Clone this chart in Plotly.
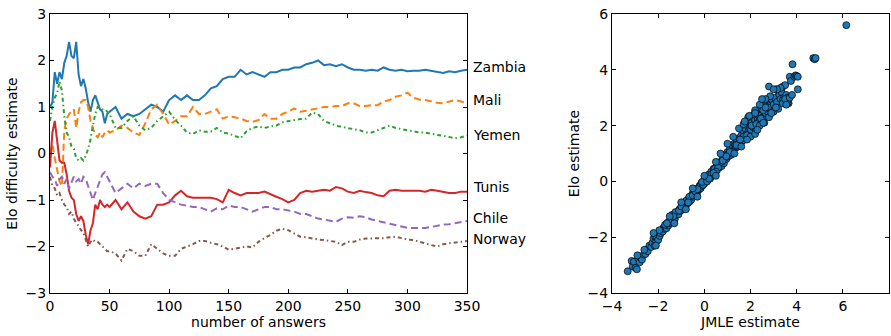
import plotly.graph_objects as go

# ---------------- data ----------------
answers = [0, 2, 4, 6, 8, 10, 12, 14, 16, 18, 20, 22, 24, 26, 28, 30, 32, 34, 36, 38, 40, 42, 44, 46, 48, 50,
           55, 60, 65, 70, 75, 80, 85, 90, 95, 100,
           105, 110, 115, 120, 125, 130, 135, 140, 145, 150,
           155, 160, 165, 170, 175, 180, 185, 190, 195, 200,
           205, 210, 215, 220, 225, 230, 235, 240, 245, 250,
           255, 260, 265, 270, 275, 280, 285, 290, 295, 300,
           305, 310, 315, 320, 325, 330, 335, 340, 345, 350]

zambia = [1.0, 1.1, 1.75, 1.5, 1.75, 1.6, 1.95, 2.1, 2.4, 2.1, 2.05, 2.4, 1.7, 1.45, 1.6, 1.4, 1.1, 0.9, 1.15, 1.25, 1.1, 0.95, 0.9, 0.65, 0.85, 0.9,
          1.0, 0.75, 0.85, 0.8, 0.85, 0.95, 1.05, 1.0, 0.9, 1.15,
          1.25, 1.15, 1.25, 1.15, 1.15, 1.25, 1.4, 1.45, 1.6, 1.65,
          1.65, 1.8, 1.7, 1.75, 1.7, 1.65, 1.75, 1.75, 1.8, 1.8,
          1.85, 1.85, 1.92, 1.95, 2.0, 1.9, 1.92, 1.88, 1.92, 1.85,
          1.8, 1.8, 1.78, 1.8, 1.78, 1.85, 1.8, 1.78, 1.8, 1.77,
          1.78, 1.78, 1.8, 1.78, 1.75, 1.73, 1.77, 1.75, 1.78, 1.8]

mali = [0.0, 0.2, -0.1, -0.35, -0.6, -0.7, 0.5, 0.75, 0.85, 0.9, 0.95, 0.55, 0.9, 1.1, 1.15, 1.15, 1.0, 0.7, 0.55, 0.4, 0.35, 0.45, 0.35, 0.45, 0.5, 0.45,
        0.5, 0.6, 0.55, 0.45, 0.4, 0.65, 0.95, 1.05, 0.85, 0.62,
        0.7, 0.8, 0.8, 1.0, 0.85, 0.85, 0.9, 0.95, 0.75, 0.8,
        0.78, 0.75, 0.7, 0.68, 0.72, 0.85, 0.75, 0.75, 0.85, 0.9,
        0.97, 0.9, 0.92, 0.95, 0.97, 1.0, 1.0, 1.02, 1.02, 1.08,
        1.08, 1.02, 1.02, 1.04, 1.04, 1.12, 1.15, 1.22, 1.25, 1.31,
        1.2, 1.16, 1.15, 1.12, 1.09, 1.08, 1.12, 1.15, 1.12, 1.08]

yemen = [0.7, 1.0, 1.2, 1.3, 1.55, 1.35, 0.8, 0.45, 0.35, 0.15, 0.1, -0.1, -0.15, -0.1, -0.15, -0.05, 0.1, 0.3, 0.6, 0.85, 1.0, 1.0, 0.95, 0.95, 0.9, 0.85,
         0.55, 0.55, 0.7, 0.8, 0.6, 0.5, 0.55, 0.7, 0.8, 0.9,
         0.72, 0.6, 0.45, 0.42, 0.5, 0.47, 0.47, 0.55, 0.45, 0.43,
         0.38, 0.33, 0.48, 0.55, 0.58, 0.55, 0.58, 0.6, 0.67, 0.7,
         0.72, 0.74, 0.75, 0.88, 0.85, 0.7, 0.65, 0.6, 0.57, 0.55,
         0.52, 0.5, 0.45, 0.45, 0.5, 0.55, 0.6, 0.55, 0.52, 0.5,
         0.48, 0.45, 0.45, 0.42, 0.4, 0.38, 0.35, 0.33, 0.35, 0.38]

tunis = [-0.3, 0.45, 0.7, 0.3, -0.15, -0.2, -0.2, -0.45, -0.8, -0.95, -1.0, -1.3, -1.45, -1.35, -1.45, -1.75, -1.95, -1.65, -1.5, -1.1, -1.2, -1.0, -1.1, -1.15, -1.1, -1.15,
         -1.0, -1.2, -1.05, -1.25, -1.35, -1.4, -1.35, -1.1, -1.1, -1.05,
         -0.9, -0.8, -0.92, -0.95, -0.95, -0.95, -0.95, -0.98, -1.05, -0.78,
         -0.85, -0.9, -0.85, -0.85, -0.85, -0.82, -0.88, -0.93, -0.98, -1.05,
         -1.0, -0.85, -0.8, -0.82, -0.8, -0.78, -0.8, -0.72, -0.75, -0.82,
         -0.85, -0.8, -0.83, -0.85, -0.9, -0.92, -0.8, -0.78, -0.8, -0.8,
         -0.8, -0.8, -0.82, -0.78, -0.8, -0.82, -0.85, -0.85, -0.82, -0.82]

chile = [-0.4, -0.5, -0.55, -0.7, -0.55, -0.5, -0.65, -0.55, -0.75, -0.6, -0.5, -0.6, -0.55, -0.65, -0.5, -0.55, -0.7, -0.85, -1.0, -0.85, -0.7, -0.6, -0.45, -0.4, -0.5, -0.6,
         -0.85, -0.75, -0.65, -0.75, -0.65, -0.7, -0.65, -0.65, -0.85, -1.0,
         -1.05, -1.1, -1.12, -1.15, -1.15, -1.2, -1.25, -1.18, -1.2, -1.12,
         -1.15, -1.15, -1.2, -1.25, -1.2, -1.15, -1.15, -1.2, -1.2, -1.22,
         -1.25, -1.3, -1.3, -1.35, -1.4, -1.42, -1.45, -1.47, -1.4, -1.37,
         -1.38, -1.35, -1.37, -1.42, -1.45, -1.48, -1.52, -1.55, -1.58, -1.6,
         -1.6, -1.6, -1.6, -1.58, -1.55, -1.53, -1.52, -1.5, -1.48, -1.45]

norway = [-0.5, -0.7, -0.75, -0.9, -0.85, -1.0, -1.1, -1.15, -1.3, -1.25, -1.4, -1.5, -1.55, -1.65, -1.7, -1.85, -2.0, -1.9, -1.85, -1.9, -1.9, -1.95, -2.0, -2.05, -2.1, -2.1,
          -2.15, -2.3, -2.05, -2.1, -2.2, -2.2, -1.95, -2.05, -2.15, -2.2,
          -2.2, -2.05, -2.0, -1.95, -1.88, -1.88, -1.92, -1.95, -2.0, -2.07,
          -2.05, -2.02, -2.0, -2.02, -1.9, -1.82, -1.75, -1.66, -1.62, -1.65,
          -1.72, -1.79, -1.8, -1.83, -1.85, -1.86, -1.88, -1.9, -1.97, -1.9,
          -1.9, -1.85, -1.83, -1.83, -1.83, -1.82, -1.8, -1.79, -1.82, -1.85,
          -1.86, -1.9, -1.93, -1.97, -2.0, -1.95, -1.93, -1.92, -1.9, -1.88]

countries = ["Zambia", "Mali", "Yemen", "Tunis", "Chile", "Norway"]
label_y = [1.86, 1.14, 0.40, -0.73, -1.39, -1.84]

jmle = [-3.32, -3.15, -3.1, -3.05, -2.98, -2.92, -2.85, -2.8, -2.75, -2.7, -2.62, -2.55, -2.5, -2.45, -2.38, -2.3, -2.25, -2.2, -2.15, -2.12, -2.08, -2.05, -2.0, -1.97, -1.93,
        -1.9, -1.85, -1.8, -1.76, -1.72, -1.68, -1.64, -1.6, -1.56, -1.52, -1.48, -1.44, -1.4, -1.36, -1.32, -1.28, -1.24, -1.2, -1.16, -1.12, -1.08, -1.04, -1.0, -0.96, -0.92,
        -0.88, -0.84, -0.8, -0.76, -0.72, -0.68, -0.64, -0.6, -0.56, -0.52, -0.48, -0.44, -0.4, -0.36, -0.32, -0.28, -0.24, -0.2, -0.16, -0.12, -0.08, -0.04, 0.0, 0.04, 0.08,
        -1.7, -1.55, -1.4, -1.25, -1.1, -0.95, -0.8, -0.65, -0.5, -0.35, -0.2, -0.05, -1.35, -1.0, -0.7, -0.4, -0.1, -1.95, -1.62, -0.3,
        0.1, 0.15, 0.2, 0.25, 0.3, 0.35, 0.4, 0.45, 0.5, 0.55, 0.6, 0.65, 0.7, 0.75, 0.8, 0.85, 0.9, 0.95, 1.0, 1.05, 1.1, 1.15, 1.2, 1.25, 1.3, 1.35, 1.4, 1.45, 1.5,
        1.55, 1.6, 1.65, 1.7, 1.75, 1.8, 1.85, 1.9, 1.95, 2.0,
        0.12, 0.3, 0.45, 0.6, 0.75, 0.9, 1.05, 1.2, 1.35, 1.5, 1.65, 1.8, 1.95, 0.2, 0.5, 0.8, 1.1, 1.4, 1.7, 0.4, 0.95, 1.55, 1.85,
        2.02, 2.05, 2.1, 2.12, 2.15, 2.2, 2.22, 2.25, 2.3, 2.32, 2.35, 2.4, 2.42, 2.45, 2.5, 2.52, 2.55, 2.6, 2.62, 2.65, 2.7, 2.72, 2.75, 2.8, 2.82, 2.85, 2.9, 2.95, 3.0,
        2.15, 2.35, 2.55, 2.75, 2.05, 2.45, 2.65, 2.25,
        3.05, 3.1, 3.15, 3.2, 3.25, 3.3, 3.35, 3.4, 3.45, 3.5, 3.55, 3.6, 3.65, 3.7, 3.75, 3.82, 3.9, 3.95, 4.0, 4.05, 4.05, 2.8, 3.4,
        4.72, 4.78, 4.82, 6.15,
        1.5, 1.7, 1.9, 2.0, 2.2, 2.4, 2.6, 2.8, 3.0, 3.2, 3.4, 3.6, 3.3, 3.15, 2.85, 2.65, 2.4, 2.2, 1.95, 1.75,
        1.25, 1.0, 0.7, 0.5, 1.3, 1.6, 1.85, 2.3, 2.55, 2.9, 3.1, 3.5, 3.55, 3.7, 3.8, 3.0, 2.5, 2.2,
        -2.2, -2.1, -2.9, -2.6, -1.5, -1.0, -0.5, 0.0, 0.5, -0.3, -0.8, -1.3]

elo = [-3.22, -2.85, -3.05, -2.88, -3.1, -3.15, -2.78, -2.9, -2.72, -2.8, -2.62, -2.6, -2.45, -2.5, -2.3, -2.35, -2.2, -2.05, -2.3, -2.0, -2.15, -2.0, -2.1, -1.85, -1.95,
       -1.85, -1.75, -1.8, -1.65, -1.7, -1.6, -1.68, -1.5, -1.58, -1.45, -1.5, -1.35, -1.42, -1.3, -1.25, -1.35, -1.15, -1.2, -1.1, -1.18, -1.0, -1.05, -0.95, -1.02, -0.85,
       -0.9, -0.8, -0.88, -0.7, -0.78, -0.62, -0.72, -0.55, -0.65, -0.45, -0.55, -0.4, -0.48, -0.3, -0.42, -0.25, -0.3, -0.15, -0.25, -0.05, -0.15, 0.0, -0.08, 0.1, 0.0,
       -1.55, -1.45, -1.2, -1.1, -1.05, -0.85, -0.7, -0.55, -0.5, -0.38, -0.2, -0.12, -1.25, -0.9, -0.75, -0.35, -0.02, -1.75, -1.5, -0.28,
       0.15, 0.05, 0.25, 0.1, 0.35, 0.2, 0.45, 0.3, 0.5, 0.4, 0.65, 0.5, 0.7, 0.55, 0.85, 0.65, 0.95, 0.8, 1.05, 0.9, 1.15, 0.95, 1.3, 1.1, 1.35, 1.2, 1.45, 1.25, 1.55,
       1.4, 1.65, 1.45, 1.8, 1.55, 1.85, 1.7, 1.95, 1.75, 2.05,
       0.0, 0.25, 0.45, 0.5, 0.7, 0.85, 1.0, 1.05, 1.3, 1.35, 1.55, 1.6, 1.85, 0.1, 0.35, 0.75, 1.05, 1.3, 1.6, 0.3, 0.9, 1.5, 1.65,
       1.85, 2.15, 1.95, 2.3, 2.05, 2.2, 1.9, 2.4, 2.1, 2.25, 2.5, 2.2, 2.35, 2.6, 2.4, 2.7, 2.3, 2.55, 2.75, 2.45, 2.6, 2.85, 2.5, 2.7, 2.95, 2.6, 2.8, 2.9, 2.75,
       2.4, 2.0, 2.55, 2.65, 2.0, 2.25, 2.65, 2.05,
       3.0, 3.3, 2.85, 3.25, 3.1, 2.95, 3.2, 3.4, 3.0, 3.45, 3.1, 3.0, 2.8, 3.75, 3.6, 4.2, 3.75, 3.8, 3.78, 3.3, 3.75, 3.4, 2.9,
       4.42, 4.38, 4.42, 5.6,
       1.9, 2.05, 2.3, 1.6, 1.7, 2.0, 2.1, 2.3, 2.5, 2.6, 2.8, 2.8, 3.35, 3.3, 3.05, 2.95, 2.75, 2.55, 2.35, 2.15,
       1.6, 1.35, 1.0, 0.7, 1.0, 1.25, 1.5, 1.85, 2.1, 2.45, 2.65, 2.95, 2.75, 3.0, 3.1, 3.3, 2.95, 2.45,
       -1.85, -2.3, -2.65, -2.45, -1.25, -0.75, -0.25, 0.2, 0.2, -0.55, -1.0, -1.5]

# ---------------- styles ----------------
FONT = "DejaVu Sans"
series = [
    (zambia, "#1f77b4", "solid"),
    (mali, "#ff7f0e", "7px,4px"),
    (yemen, "#2ca02c", "4px,3px,1.5px,3px"),
    (tunis, "#d62728", "solid"),
    (chile, "#9467bd", "7px,4px"),
    (norway, "#8c564b", "4px,3px,1.5px,3px"),
]

fig = go.Figure()
for (vals, col, dash), name in zip(series, countries):
    fig.add_trace(go.Scatter(x=answers, y=vals, mode="lines", name=name,
                             line=dict(color=col, width=2, dash=dash),
                             xaxis="x", yaxis="y", showlegend=False))

fig.add_trace(go.Scatter(x=jmle, y=elo, mode="markers", xaxis="x2", yaxis="y2",
                         marker=dict(size=7, color="#1f77b4", line=dict(color="black", width=0.7)),
                         showlegend=False))

for name, ly in zip(countries, label_y):
    fig.add_annotation(x=350, y=ly, xref="x", yref="y", text=name, showarrow=False,
                       xanchor="left", yanchor="middle", xshift=4,
                       font=dict(family=FONT, size=14, color="black"))

axis_common = dict(showline=True, linecolor="black", linewidth=1, mirror="allticks",
                   ticks="inside", ticklen=4, tickcolor="black", tickwidth=1,
                   showgrid=False, zeroline=False, automargin=False,
                   tickfont=dict(family=FONT, size=14, color="black"))

ydom = [1 - 293 / 336, 1 - 14 / 336]
fig.update_layout(
    width=891, height=336,
    margin=dict(l=0, r=0, t=0, b=0),
    paper_bgcolor="white", plot_bgcolor="white",
    font=dict(family=FONT, size=14, color="black"),
    xaxis=dict(domain=[50 / 891, 467 / 891], range=[0, 350], dtick=50, anchor="y",
               title=dict(text="number of answers", standoff=2, font=dict(family=FONT, size=14)),
               **axis_common),
    yaxis=dict(domain=ydom, range=[-3, 3], dtick=1, anchor="x",
               title=dict(text="Elo difficulty estimate", standoff=4, font=dict(family=FONT, size=14)),
               **axis_common),
    xaxis2=dict(domain=[612 / 891, 889 / 891], range=[-4, 8], dtick=2, anchor="y2",
                title=dict(text="JMLE estimate", standoff=2, font=dict(family=FONT, size=14)),
                **axis_common),
    yaxis2=dict(domain=ydom, range=[-4, 6], dtick=2, anchor="x2",
                title=dict(text="Elo estimate", standoff=4, font=dict(family=FONT, size=14)),
                **axis_common),
)

fig.write_html("out.html", config={"displayModeBar": False},
               post_script="document.body.style.margin='0';document.body.style.overflow='hidden';")
